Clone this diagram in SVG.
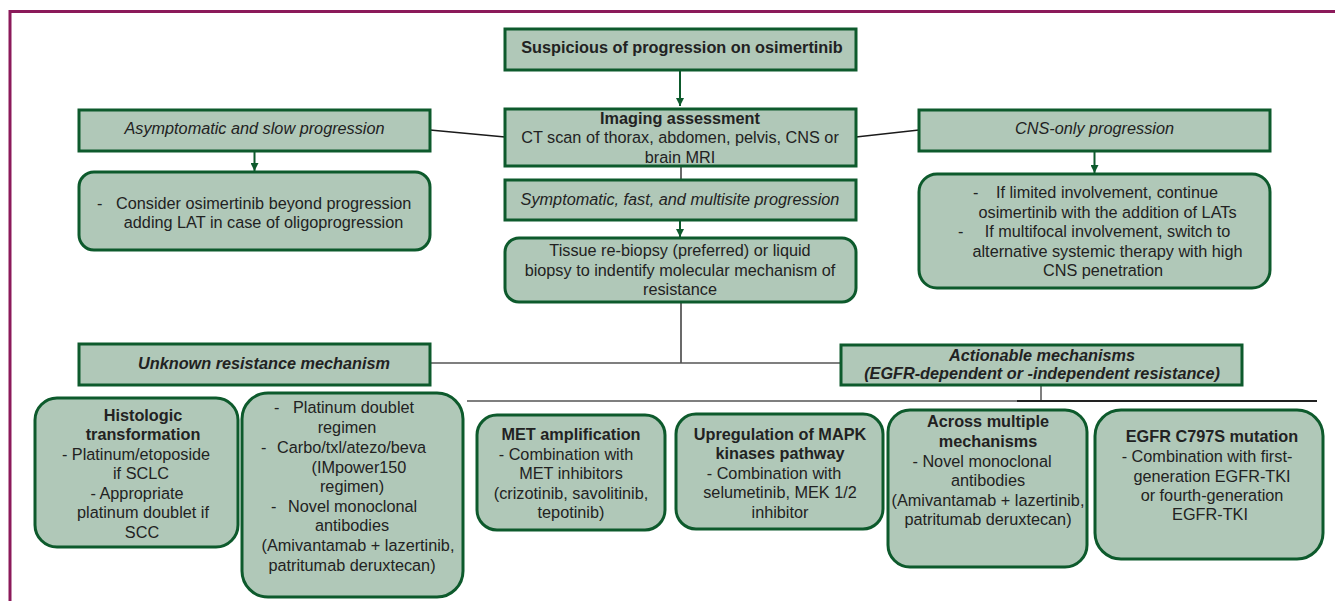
<svg xmlns="http://www.w3.org/2000/svg" width="1335" height="601" viewBox="0 0 1335 601">
<defs>
<marker id="ah" markerWidth="8" markerHeight="8" refX="8" refY="4" orient="auto" markerUnits="userSpaceOnUse">
<path d="M0,0 L8,4 L0,8 Z" fill="#0d5a2c"/>
</marker>
<style>
.box{fill:#b0c8b8;stroke:#0d5a2c;stroke-width:3}
.t{font-family:"Liberation Sans",Arial,sans-serif;font-size:16.25px;fill:#222222}
.m{text-anchor:middle}
.b{font-weight:bold}
.i{font-style:italic}
.arr{stroke:#0d5a2c;stroke-width:2;fill:none}
.ln{stroke:#1a1a1a;stroke-width:1.3;fill:none}
.ln2{stroke:#555;stroke-width:1.5;fill:none}
</style>
</defs>
<rect width="1335" height="601" fill="#ffffff"/>
<g id="frame">
<path d="M10,601 L10,11.5 L1335,11.5" fill="none" stroke="#8b1a5a" stroke-width="3"/>
</g>
<g id="connectors">
<line class="arr" x1="680" y1="70" x2="680" y2="106" marker-end="url(#ah)"/>
<line class="ln" x1="430" y1="130" x2="505" y2="137"/>
<line class="ln" x1="856" y1="137" x2="919" y2="130"/>
<line class="arr" x1="254.5" y1="151" x2="254.5" y2="171" marker-end="url(#ah)"/>
<line class="arr" x1="1094.5" y1="151" x2="1094.5" y2="173" marker-end="url(#ah)"/>
<line class="ln" x1="681" y1="167" x2="681" y2="180"/>
<line class="arr" x1="680" y1="221" x2="680" y2="237" marker-end="url(#ah)"/>
<line class="ln" x1="681" y1="302" x2="681" y2="363"/>
<line class="ln2" x1="430" y1="363" x2="841" y2="363"/>
<line class="ln2" x1="1041" y1="385" x2="1041" y2="401"/>
<line class="ln2" x1="467" y1="401" x2="1017" y2="401"/>
<line x1="1017" y1="401" x2="1317" y2="401" stroke="#222" stroke-width="1.8"/>
</g>
<g id="n-suspicious">
<rect class="box" x="505" y="29" width="351" height="41"/>
<text class="t b m" x="682" y="53">Suspicious of progression on osimertinib</text>
</g>
<g id="n-imaging">
<rect class="box" x="505" y="109" width="351" height="57"/>
<text class="t b m" x="680" y="124">Imaging assessment</text>
<text class="t m" x="680" y="143">CT scan of thorax, abdomen, pelvis, CNS or</text>
<text class="t m" x="680" y="163">brain MRI</text>
</g>
<g id="n-asymptomatic">
<rect class="box" x="79" y="110" width="351" height="41"/>
<text class="t i m" x="254.5" y="134">Asymptomatic and slow progression</text>
</g>
<g id="n-consider">
<rect class="box" x="79" y="172" width="351" height="78" rx="15"/>
<text class="t" x="97" y="209">-</text>
<text class="t" x="116" y="209">Consider osimertinib beyond progression</text>
<text class="t m" x="263.5" y="228">adding LAT in case of oligoprogression</text>
</g>
<g id="n-symptomatic">
<rect class="box" x="505" y="180" width="351" height="40"/>
<text class="t i m" x="680" y="205">Symptomatic, fast, and multisite progression</text>
</g>
<g id="n-tissue">
<rect class="box" x="505" y="238" width="351" height="64" rx="14"/>
<text class="t m" x="680" y="256">Tissue re-biopsy (preferred) or liquid</text>
<text class="t m" x="680" y="276">biopsy to indentify molecular mechanism of</text>
<text class="t m" x="680" y="295">resistance</text>
</g>
<g id="n-cnsonly">
<rect class="box" x="919" y="110" width="351" height="41"/>
<text class="t i m" x="1094.5" y="134">CNS-only progression</text>
</g>
<g id="n-cnsbox">
<rect class="box" x="919" y="174" width="351" height="114" rx="18"/>
<text class="t" x="973" y="198">-</text>
<text class="t m" x="1107" y="198">If limited involvement, continue</text>
<text class="t m" x="1107.5" y="218">osimertinib with the addition of LATs</text>
<text class="t" x="958" y="237">-</text>
<text class="t m" x="1107.5" y="237">If multifocal involvement, switch to</text>
<text class="t m" x="1107.5" y="257">alternative systemic therapy with high</text>
<text class="t m" x="1103" y="276">CNS penetration</text>
</g>
<g id="n-unknown">
<rect class="box" x="79" y="344" width="351" height="41"/>
<text class="t b i m" x="264" y="369">Unknown resistance mechanism</text>
</g>
<g id="n-actionable">
<rect class="box" x="841" y="345" width="401" height="40"/>
<text class="t b i m" x="1042" y="361">Actionable mechanisms</text>
<text class="t b i m" x="1042" y="379">(EGFR-dependent or -independent resistance)</text>
</g>
<g id="n-histologic">
<rect class="box" x="35" y="398" width="203" height="149" rx="22"/>
<text class="t b m" x="143" y="421">Histologic</text>
<text class="t b m" x="143" y="440">transformation</text>
<text class="t m" x="136" y="460">- Platinum/etoposide</text>
<text class="t m" x="141" y="479">if SCLC</text>
<text class="t m" x="137" y="499">- Appropriate</text>
<text class="t m" x="143" y="518">platinum doublet if</text>
<text class="t m" x="142" y="538">SCC</text>
</g>
<g id="n-platinum">
<rect class="box" x="242" y="393" width="221" height="204" rx="26"/>
<text class="t" x="274" y="413">-</text>
<text class="t" x="293" y="413">Platinum doublet</text>
<text class="t m" x="347" y="433">regimen</text>
<text class="t" x="261" y="453">-</text>
<text class="t" x="277" y="453">Carbo/txl/atezo/beva</text>
<text class="t m" x="359" y="473">(IMpower150</text>
<text class="t m" x="352" y="492">regimen)</text>
<text class="t" x="271" y="512">-</text>
<text class="t" x="288" y="512">Novel monoclonal</text>
<text class="t m" x="352" y="531">antibodies</text>
<text class="t m" x="358" y="551">(Amivantamab + lazertinib,</text>
<text class="t m" x="352" y="571">patritumab deruxtecan)</text>
</g>
<g id="n-met">
<rect class="box" x="477" y="415" width="188" height="115" rx="20"/>
<text class="t b m" x="571" y="440">MET amplification</text>
<text class="t m" x="566" y="460">- Combination with</text>
<text class="t m" x="571" y="479">MET inhibitors</text>
<text class="t m" x="571" y="499">(crizotinib, savolitinib,</text>
<text class="t m" x="571" y="518">tepotinib)</text>
</g>
<g id="n-mapk">
<rect class="box" x="676" y="414" width="207" height="115" rx="20"/>
<text class="t b m" x="780" y="440">Upregulation of MAPK</text>
<text class="t b m" x="780" y="459">kinases pathway</text>
<text class="t m" x="774" y="479">- Combination with</text>
<text class="t m" x="780" y="498">selumetinib, MEK 1/2</text>
<text class="t m" x="780" y="518">inhibitor</text>
</g>
<g id="n-across">
<rect class="box" x="888" y="410" width="199" height="157" rx="22"/>
<text class="t b m" x="988" y="427">Across multiple</text>
<text class="t b m" x="988" y="447">mechanisms</text>
<text class="t m" x="982" y="467">- Novel monoclonal</text>
<text class="t m" x="988" y="486">antibodies</text>
<text class="t m" x="988" y="506">(Amivantamab + lazertinib,</text>
<text class="t m" x="988" y="525">patritumab deruxtecan)</text>
</g>
<g id="n-c797s">
<rect class="box" x="1095" y="410" width="228" height="149" rx="26"/>
<text class="t b m" x="1212" y="442">EGFR C797S mutation</text>
<text class="t m" x="1207" y="462">- Combination with first-</text>
<text class="t m" x="1212" y="482">generation EGFR-TKI</text>
<text class="t m" x="1212" y="501">or fourth-generation</text>
<text class="t m" x="1210" y="520">EGFR-TKI</text>
</g>
</svg>
